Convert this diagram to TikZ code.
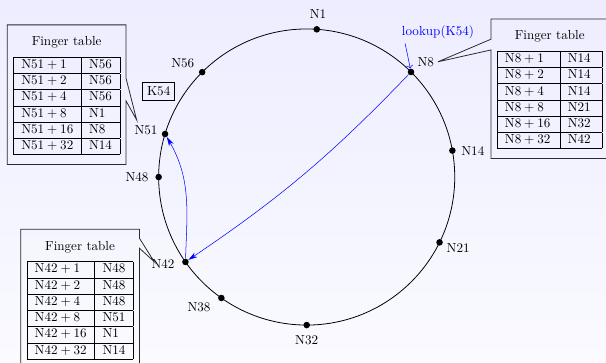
\documentclass[tikz,border=0pt]{standalone}
\usepackage{xcolor}
\usepackage{tikz}
\usetikzlibrary{positioning,arrows.meta}
\definecolor{LookupBlue}{HTML}{0000FF}
\definecolor{BgTop}{HTML}{EDEDFF}
\definecolor{BgBottom}{HTML}{FAFAFF}
\definecolor{BoxLine}{HTML}{2A2A2A}

\tikzset{
  peer/.style={circle, fill=black, inner sep=0pt, minimum size=5pt},
  fingerbox/.style={rectangle, align=center, inner xsep=4.5pt, inner ysep=7pt,
    anchor=north west},
  boxline/.style={draw=BoxLine, semithick},
  hop/.style={draw=LookupBlue, -{Stealth[length=7pt,width=4pt]}},
}

\begin{document}
\begin{tikzpicture}
  \useasboundingbox (-8.225,-4.961) rectangle (8.026,4.747);
  \shade[top color=BgTop, bottom color=BgBottom] (-8.225,-4.961) rectangle (8.026,4.747);

  % ring of peers
  \draw[line width=0.6pt] (0,0) circle (3.97);
  \foreach \id/\a/\la/\lr in {1/86.1/86/4.37, 8/45.2/44/4.44, 14/10.3/8.9/4.51,
      21/-26.2/-25.2/4.49, 32/-90/-90/4.37, 38/-125.2/-129.6/4.53,
      42/-145/-148.9/4.5, 48/180/180/4.55, 51/163.1/163.7/4.49, 56/134.9/137.5/4.51}{
    \node[peer] (n\id) at (\a:3.97) {};
    \node (l\id) at (\la:\lr) {N\id};
  }

  \node[draw] (key) at (-3.97,2.31) {K54};
  \node[text=LookupBlue] (lookup) at (3.52,3.88) {lookup(K54)};
  \draw[->, LookupBlue] ([xshift=6pt]lookup.south west) -- (n8);

  % hops of the lookup
  \draw[hop] (n8) to[bend left=6] (n42);
  \draw[hop] (n42) to[out=88, in=-60] (n51);

  % finger tables
  \coordinate (t51) at (-4.56,1.53);
  \coordinate (t8) at (3.52,3.09);
  \coordinate (t42) at (-4.09,-2.27);

  \node[fingerbox] (f51) at (-8.03,4.08) {%
    \rule{0pt}{8.7pt}Finger table\\[5.5pt]
    \begin{tabular}{|l|l|}\hline
      $\mathrm{N}51 + 1$ & N56\\\hline
      $\mathrm{N}51 + 2$ & N56\\\hline
      $\mathrm{N}51 + 4$ & N56\\\hline
      $\mathrm{N}51 + 8$ & N1\\\hline
      $\mathrm{N}51 + 16$ & N8\\\hline
      $\mathrm{N}51 + 32$ & N14\\\hline
    \end{tabular}
  };
  \draw[boxline] (f51.north west) -- (f51.north east) -- ([yshift=-40.7pt]f51.north east)
    -- (t51) -- ([yshift=-58pt]f51.north east) -- (f51.south east) -- (f51.south west) -- cycle;

  \node[fingerbox] (f8) at (4.94,4.24) {%
    \rule{0pt}{8.7pt}Finger table\\[5.5pt]
    \begin{tabular}{|p{36pt}|p{20.3pt}|}\hline
      $\mathrm{N}8 + 1$ & N14\\\hline
      $\mathrm{N}8 + 2$ & N14\\\hline
      $\mathrm{N}8 + 4$ & N14\\\hline
      $\mathrm{N}8 + 8$ & N21\\\hline
      $\mathrm{N}8 + 16$ & N32\\\hline
      $\mathrm{N}8 + 32$ & N42\\\hline
    \end{tabular}
  };
  \draw[boxline] (f8.north west) -- (f8.north east) -- (f8.south east) -- (f8.south west)
    -- ([yshift=-23.7pt]f8.north west) -- (t8) -- ([yshift=-15.5pt]f8.north west) -- cycle;

  \node[fingerbox] (f42) at (-7.67,-1.40) {%
    \rule{0pt}{8.7pt}Finger table\\[5.5pt]
    \begin{tabular}{|l|l|}\hline
      $\mathrm{N}42 + 1$ & N48\\\hline
      $\mathrm{N}42 + 2$ & N48\\\hline
      $\mathrm{N}42 + 4$ & N48\\\hline
      $\mathrm{N}42 + 8$ & N51\\\hline
      $\mathrm{N}42 + 16$ & N1\\\hline
      $\mathrm{N}42 + 32$ & N14\\\hline
    \end{tabular}
  };
  \draw[boxline] (f42.north west) -- (f42.north east) -- ([yshift=-6.9pt]f42.north east)
    -- (t42) -- ([yshift=-14.5pt]f42.north east) -- (f42.south east) -- (f42.south west) -- cycle;
\end{tikzpicture}
\end{document}
